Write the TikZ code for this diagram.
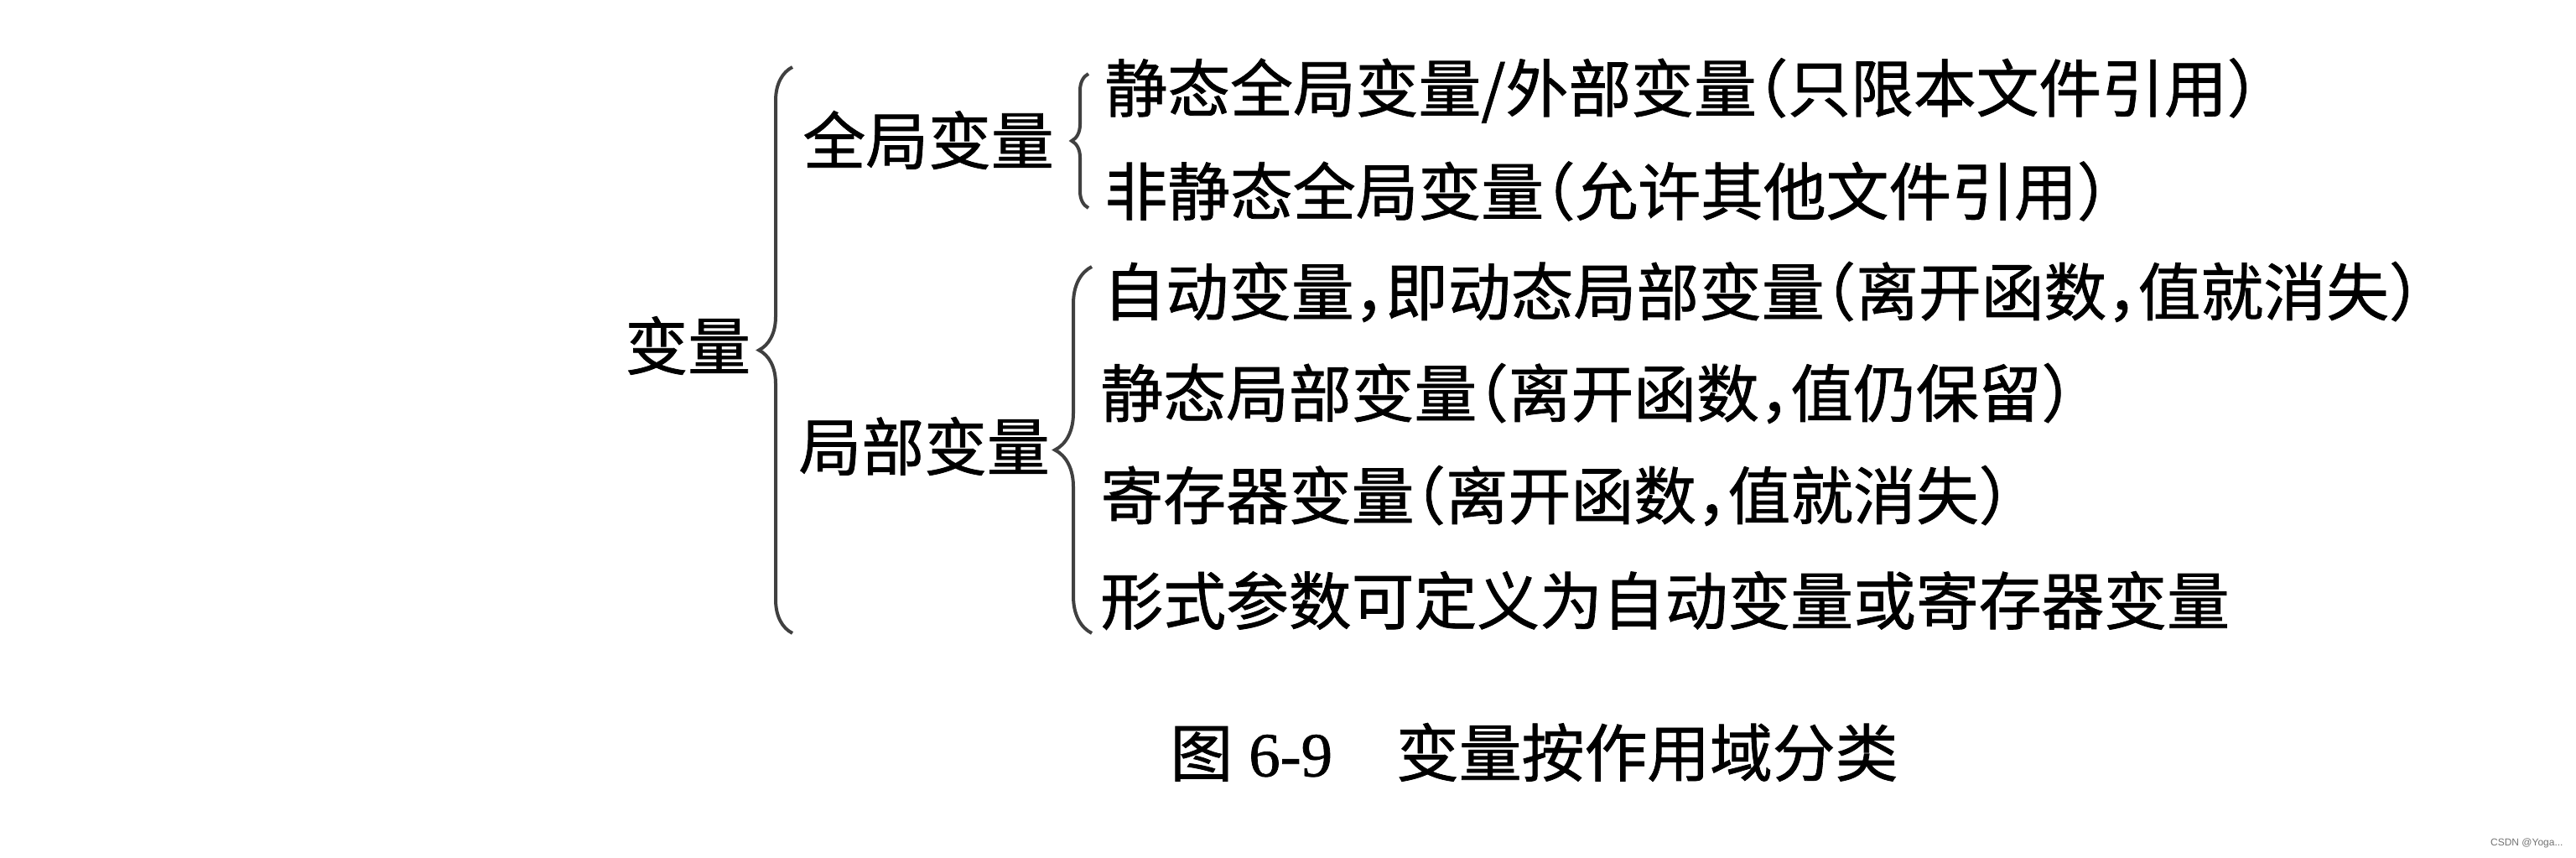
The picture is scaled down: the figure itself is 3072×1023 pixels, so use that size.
\documentclass[tikz,border=0pt]{standalone}
\usepackage{fontspec}
\setmainfont{Noto Sans CJK SC}[CharacterWidth=AlternateHalf, FakeBold=1]
\newfontfamily\numfont{Liberation Serif}[FakeBold=1]
\newfontfamily\markfont{Liberation Sans}
\usetikzlibrary{decorations.pathreplacing}

\tikzset{every picture/.style={line width=0.75pt}}
\tikzset{
  lbl/.style={anchor=west, inner sep=0pt, font=\fontsize{18.7}{22}\selectfont},
  curly/.style={decorate, decoration={brace, amplitude=#1}, draw=black!75, line width=1pt},
}

\begin{document}
\begin{tikzpicture}[x=0.25pt,y=0.25pt,yscale=-1,xscale=1]
\useasboundingbox (0,0) rectangle (3072,1023);

% Text Node
\node (var) at (744,412) [lbl] {变量};
% Text Node
\node (glob) at (956,167) [lbl] {全局变量};
% Text Node
\node (loc) at (951,532) [lbl] {局部变量};
% Text Node
\node (glob1) at (1316,108) [lbl] {静态全局变量/外部变量（只限本文件引用）};
% Text Node
\node (glob2) at (1316,228) [lbl] {非静态全局变量（允许其他文件引用）};
% Text Node
\node (loc1) at (1314,348) [lbl] {自动变量，即动态局部变量（离开函数，值就消失）};
% Text Node
\node (loc2) at (1311,469) [lbl] {静态局部变量（离开函数，值仍保留）};
% Text Node
\node (loc3) at (1311,591) [lbl] {寄存器变量（离开函数，值就消失）};
% Text Node
\node (loc4) at (1311,716) [lbl] {形式参数可定义为自动变量或寄存器变量};
% Text Node
\node (cap) at (1394,897) [lbl] {图\hspace{4.75pt}{\numfont 6-9}\hspace{19pt}变量按作用域分类};
% Text Node
\node (mark) at (3058,1005) [anchor=east, inner sep=0pt, font=\markfont\fontsize{3}{4}\selectfont, text=black!55] {CSDN @Yoga...};

%Shape: Brace [var]
\coordinate (vtop) at (945,80);
\coordinate (vbot) at (945,755);
\draw [curly=10pt] (vbot) -- (vtop);
%Shape: Brace [glob]
\coordinate (gtop) at (1298,88);
\coordinate (gbot) at (1298,248);
\draw [curly=5pt] (gbot) -- (gtop);
%Shape: Brace [loc]
\coordinate (ltop) at (1302,318);
\coordinate (lbot) at (1302,755);
\draw [curly=11pt] (lbot) -- (ltop);

\end{tikzpicture}
\end{document}
